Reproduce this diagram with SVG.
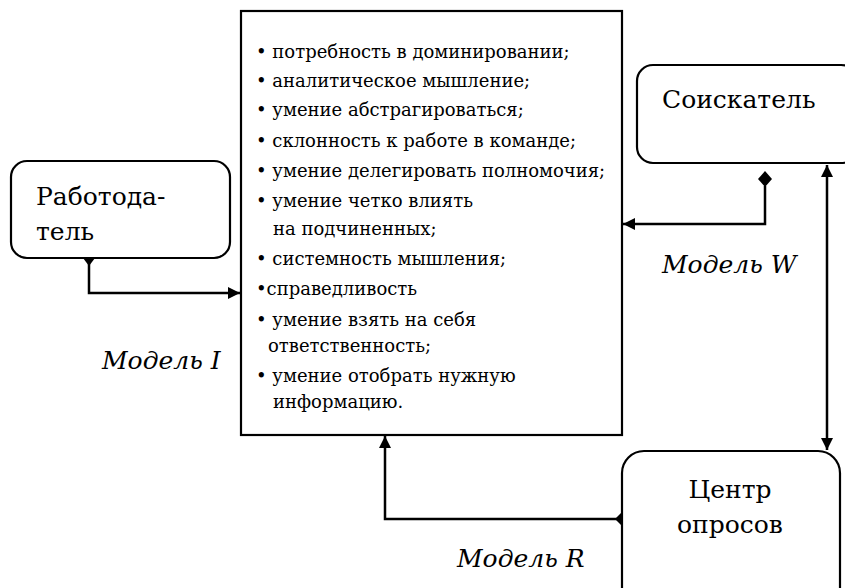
<svg xmlns="http://www.w3.org/2000/svg" width="845" height="588" viewBox="0 0 845 588">
<defs>
<marker id="arr" viewBox="0 0 12 12" refX="12" refY="6" markerWidth="12" markerHeight="12" markerUnits="userSpaceOnUse" orient="auto-start-reverse">
<path d="M0,0 L12,6 L0,12 Z" fill="#000"/>
</marker>
</defs>
<style>
.box{fill:#fff;stroke:#000;stroke-width:2.2}
.ln{fill:none;stroke:#000;stroke-width:2.5}
text{font-family:"DejaVu Serif",serif;fill:#000}
.li{font-size:18px}
.lbl{font-size:25px}
.it{font-size:25px;font-style:italic}
</style>
<g id="traits">
<rect class="box" x="241" y="11" width="381" height="424"/>
<text class="li" x="256" y="58">• потребность в доминировании;</text>
<text class="li" x="256" y="87">• аналитическое мышление;</text>
<text class="li" x="256" y="116">• умение абстрагироваться;</text>
<text class="li" x="256" y="147">• склонность к работе в команде;</text>
<text class="li" x="256" y="177">• умение делегировать полномочия;</text>
<text class="li" x="256" y="207">• умение четко влиять</text>
<text class="li" x="273" y="235">на подчиненных;</text>
<text class="li" x="256" y="265">• системность мышления;</text>
<text class="li" x="256" y="295">•справедливость</text>
<text class="li" x="256" y="326">• умение взять на себя</text>
<text class="li" x="268" y="352">ответственность;</text>
<text class="li" x="256" y="382">• умение отобрать нужную</text>
<text class="li" x="273" y="408">информацию.</text>
</g>
<g id="employer">
<rect class="box" x="11" y="161" width="219" height="97" rx="16"/>
<text class="lbl" x="36" y="205">Работода-</text>
<text class="lbl" x="36" y="240">тель</text>
</g>
<g id="applicant">
<rect class="box" x="637" y="65" width="220" height="98" rx="16"/>
<text class="lbl" x="662" y="108">Соискатель</text>
</g>
<g id="center">
<rect class="box" x="622" y="451" width="218" height="160" rx="22"/>
<text class="lbl" x="730" y="498" text-anchor="middle">Центр</text>
<text class="lbl" x="730" y="533" text-anchor="middle">опросов</text>
</g>
<g id="connectors">
<path class="ln" d="M89,260 V293 H240" marker-end="url(#arr)"/>
<path d="M83,258 L95,258 L89,266 Z" fill="#000"/>
<path class="ln" d="M765,186 V224 H623" marker-end="url(#arr)"/>
<path d="M765,171 L772,179 L765,187 L758,179 Z" fill="#000"/>
<path class="ln" d="M827,165 V450" marker-start="url(#arr)" marker-end="url(#arr)"/>
<path class="ln" d="M621,519 H385 V436" marker-end="url(#arr)"/>
<path d="M622,512 L615,519 L622,526 Z" fill="#000"/>
</g>
<g id="labels">
<text class="it" x="102" y="369">Модель I</text>
<text class="it" x="662" y="273">Модель W</text>
<text class="it" x="457" y="567">Модель R</text>
</g>
</svg>
